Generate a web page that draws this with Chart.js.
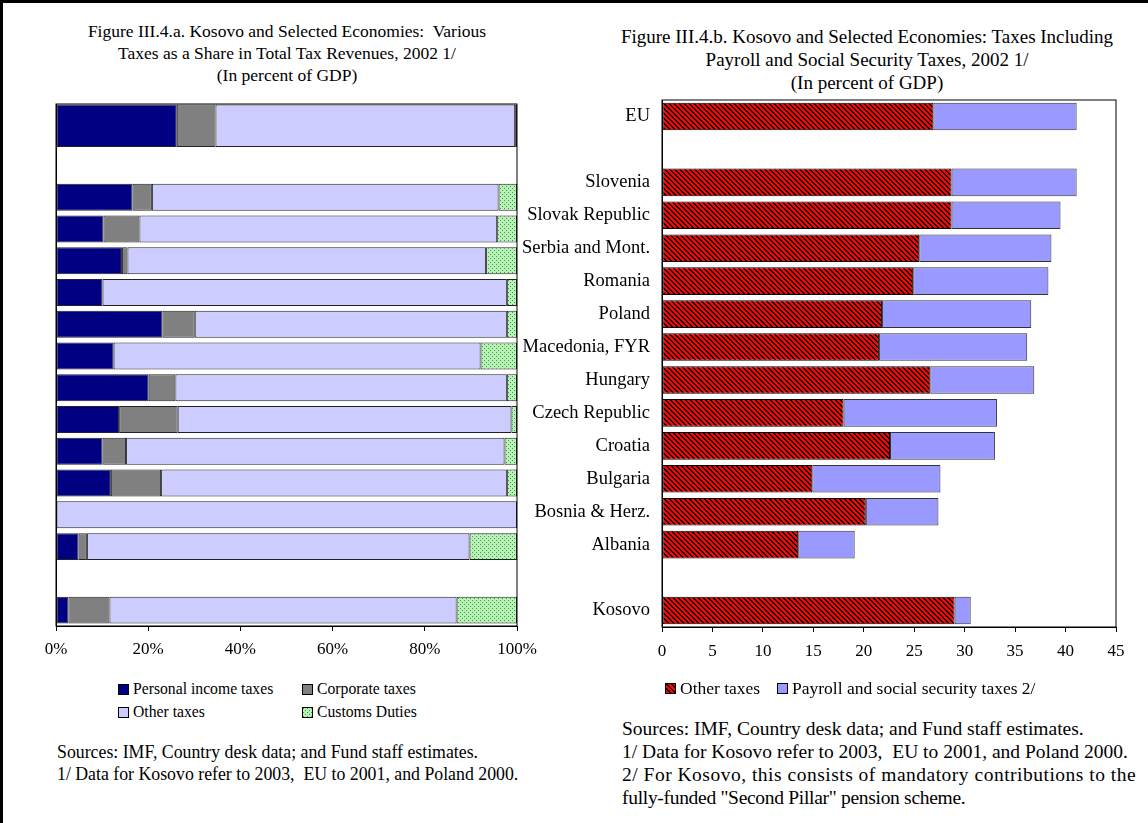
<!DOCTYPE html>
<html>
<head>
<meta charset="utf-8">
<script src="https://cdn.jsdelivr.net/npm/chart.js@4.4.0/dist/chart.umd.min.js"></script>
<style>
  html, body { margin: 0; padding: 0; background: #fff; }
  body { width: 1148px; height: 823px; position: relative; overflow: hidden;
         font-family: "Liberation Serif", "Times New Roman", serif; color: #000; }
  .frame { position: absolute; left: 0; top: 0; width: 1148px; height: 823px;
           border-left: 3px solid #000; border-top: 3px solid #000; box-sizing: border-box; }
  .box { position: absolute; }
  .title { position: absolute; text-align: center; white-space: nowrap; }
  .note { position: absolute; white-space: nowrap; }
  .leg { position: absolute; white-space: nowrap; display: flex; align-items: center; }
  .sw { display: inline-block; width: 9px; height: 9px; border: 1px solid #000; margin-right: 4px; }
</style>
</head>
<body>
<div class="frame"></div>

<div class="title" style="left:0; width:574px; top:20px; font-size:17.5px; line-height:22px;">
  Figure III.4.a. Kosovo and Selected Economies:&nbsp; Various<br>
  Taxes as a Share in Total Tax Revenues, 2002 1/<br>
  (In percent of GDP)
</div>
<div class="title" style="left:580px; width:574px; top:25px; font-size:19px; line-height:23px;">
  Figure III.4.b. Kosovo and Selected Economies: Taxes Including<br>
  Payroll and Social Security Taxes, 2002 1/<br>
  (In percent of GDP)
</div>

<div class="box" style="left:0; top:0; width:574px; height:680px;"><canvas id="chart-share"></canvas></div>
<div class="box" style="left:500px; top:0; width:648px; height:680px;"><canvas id="chart-gdp"></canvas></div>

<!-- left legend -->
<div class="leg" style="left:118px; top:680px; font-size:15.7px;"><span class="sw" style="background:#000080"></span>Personal income taxes</div>
<div class="leg" style="left:302px; top:680px; font-size:15.7px;"><span class="sw" style="background:#808080"></span>Corporate taxes</div>
<div class="leg" style="left:118px; top:703px; font-size:15.7px;"><span class="sw" style="background:#ccccff"></span>Other taxes</div>
<div class="leg" style="left:302px; top:703px; font-size:15.7px;"><span class="sw" id="sw-customs"></span>Customs Duties</div>

<div class="note" style="left:57px; top:741px; font-size:17.8px; line-height:22px;">
  Sources: IMF, Country desk data; and Fund staff estimates.<br>
  1/ Data for Kosovo refer to 2003,&nbsp; EU to 2001, and Poland 2000.
</div>

<!-- right legend -->
<div class="leg" style="left:665px; top:678px; font-size:17.5px;"><span class="sw" id="sw-other"></span>Other taxes</div>
<div class="leg" style="left:777px; top:678px; font-size:17.5px;"><span class="sw" style="background:#9999ff"></span>Payroll and social security taxes 2/</div>

<div class="note" style="left:622px; top:717px; font-size:19.5px; line-height:23px;">
  Sources: IMF, Country desk data; and Fund staff estimates.<br>
  1/ Data for Kosovo refer to 2003,&nbsp; EU to 2001, and Poland 2000.<br>
  <span style="letter-spacing:0.5px">2/ For Kosovo, this consists of mandatory contributions to the</span><br>
  <span style="letter-spacing:-0.3px">fully-funded "Second Pillar" pension scheme.</span>
</div>

<script>
// categories shared by both panels ('' = spacer rows)
const categories = ['EU', '', 'Slovenia', 'Slovak Republic', 'Serbia and Mont.', 'Romania', 'Poland',
  'Macedonia, FYR', 'Hungary', 'Czech Republic', 'Croatia', 'Bulgaria', 'Bosnia & Herz.', 'Albania', '', 'Kosovo'];

// Figure III.4.a — share in total tax revenues (percent)
const personalIncome = [26.2, null, 16.6, 10.3, 14.3, 10.1, 23.1, 12.5, 20.1, 13.7, 10.1, 11.9, 0, 4.9, null, 2.7];
const corporate      = [8.4, null, 4.2, 7.8, 1.2, 0, 7.0, 0, 5.8, 12.7, 5.1, 10.9, 0, 1.8, null, 8.9];
const otherShare     = [65.0, null, 75.2, 77.6, 77.8, 87.7, 67.7, 79.6, 71.9, 72.4, 82.1, 75.0, 100, 83.0, null, 75.3];
const customs        = [0.4, null, 4.0, 4.3, 6.7, 2.2, 2.2, 7.9, 2.2, 1.2, 2.7, 2.2, 0, 10.3, null, 13.1];

// Figure III.4.b — percent of GDP
const otherTaxes   = [26.9, null, 28.7, 28.7, 25.5, 24.9, 21.8, 21.5, 26.6, 18.0, 22.6, 14.9, 20.2, 13.5, null, 29.0];
const payrollTaxes = [14.2, null, 12.4, 10.8, 13.1, 13.4, 14.8, 14.7, 10.3, 15.2, 10.4, 12.7, 7.2, 5.6, null, 1.6];

const shareTicks = [0, 20, 40, 60, 80, 100];
const gdpTicks   = [0, 5, 10, 15, 20, 25, 30, 35, 40, 45];

const SERIF = '"Liberation Serif", "Times New Roman", serif';

// red / black "\" hatch, drawn pixel by pixel so it stays crisp
function makeStripes() {
  const n = 5;
  const c = document.createElement('canvas');
  c.width = n; c.height = n;
  const g = c.getContext('2d');
  for (let y = 0; y < n; y++) {
    for (let x = 0; x < n; x++) {
      g.fillStyle = ((x - y + n) % n) < 2 ? '#000000' : '#ff0000';
      g.fillRect(x, y, 1, 1);
    }
  }
  return c;
}

function makeDots() {
  const c = document.createElement('canvas');
  c.width = 4; c.height = 4;
  const g = c.getContext('2d');
  g.fillStyle = '#b8f2b8';
  g.fillRect(0, 0, 4, 4);
  g.fillStyle = '#3a9a3a';
  g.fillRect(0, 0, 1, 1);
  g.fillRect(2, 2, 1, 1);
  return c;
}

const stripeTile = makeStripes();
const dotTile = makeDots();

document.getElementById('sw-other').style.background = `url(${stripeTile.toDataURL()})`;
document.getElementById('sw-customs').style.background = `url(${dotTile.toDataURL()})`;

const frameBox = {
  id: 'frameBox',
  afterDraw(chart, args, opts) {
    const { ctx, chartArea: a } = chart;
    ctx.save();
    ctx.strokeStyle = opts.color;
    ctx.lineWidth = opts.width;
    ctx.strokeRect(a.left, a.top, a.right - a.left, a.bottom - a.top);
    ctx.restore();
  }
};

function tickValues(list) {
  return (scale) => { scale.ticks = list.map(v => ({ value: v })); };
}

// ---------- left: shares ----------
const shareCtx = document.getElementById('chart-share').getContext('2d');
const customsFill = shareCtx.createPattern(dotTile, 'repeat');

const shareSeries = [
  { label: 'Personal income taxes', values: personalIncome, color: '#000080' },
  { label: 'Corporate taxes',       values: corporate,      color: '#808080' },
  { label: 'Other taxes',           values: otherShare,     color: '#ccccff' },
  { label: 'Customs Duties',        values: customs,        color: customsFill },
];

// EU sits on its own (secondary) axis with a wider bar, as in the original
const euSlots = ['EU', '', '', '', '', '', '', '', '', '', '', ''];
const rowIndex = categories.map((_, i) => i);

const shareSets = [];
shareSeries.forEach(s => {
  shareSets.push({
    label: s.label, data: s.values.map((v, i) => (i === 0 ? null : v)),
    backgroundColor: s.color, yAxisID: 'y', barPercentage: 0.85
  });
});
shareSeries.forEach(s => {
  shareSets.push({
    label: s.label + ' (EU)', data: [s.values[0]],
    backgroundColor: s.color, yAxisID: 'yEU', barPercentage: 0.98
  });
});
shareSets.forEach(d => Object.assign(d, {
  borderColor: '#222', borderWidth: 1, borderSkipped: false,
  categoryPercentage: 1, grouped: false
}));

new Chart(shareCtx, {
  type: 'bar',
  data: { labels: rowIndex, datasets: shareSets },
  plugins: [frameBox],
  options: {
    indexAxis: 'y',
    responsive: true,
    maintainAspectRatio: false,
    animation: false,
    layout: { padding: { left: 56, right: 57, top: 104, bottom: 0 } },
    plugins: {
      legend: { display: false },
      tooltip: { enabled: false },
      frameBox: { color: '#000', width: 1 }
    },
    scales: {
      x: {
        stacked: true, min: 0, max: 100,
        afterBuildTicks: tickValues(shareTicks),
        afterFit: (s) => { s.height = 54; },
        ticks: { color: '#000', padding: 8, font: { family: SERIF, size: 17 }, callback: v => v + '%' },
        grid: { drawOnChartArea: false, tickLength: 5, color: '#000' },
        border: { color: '#000', width: 1 }
      },
      y: {
        type: 'linear', reverse: true, stacked: true,
        bounds: 'data', offset: false, grace: 0,
        // plot box reaches a little above the first row to hold the taller EU bar
        min: -0.94, max: categories.length - 0.5,
        afterBuildTicks: tickValues(rowIndex),
        afterFit: (s) => { s.width = 0; },
        ticks: { display: false },
        grid: { display: false },
        border: { color: '#000', width: 1 }
      },
      yEU: {
        type: 'category', labels: euSlots, offset: true, stacked: true, display: false
      }
    }
  }
});

// ---------- right: percent of GDP ----------
const gdpCtx = document.getElementById('chart-gdp').getContext('2d');
const stripeFill = gdpCtx.createPattern(stripeTile, 'repeat');

new Chart(gdpCtx, {
  type: 'bar',
  data: {
    labels: categories,
    datasets: [
      { label: 'Other taxes', data: otherTaxes, backgroundColor: stripeFill, borderColor: '#000' },
      { label: 'Payroll and social security taxes 2/', data: payrollTaxes, backgroundColor: '#9999ff', borderColor: '#333' }
    ].map(d => Object.assign(d, {
      borderWidth: 1, borderSkipped: false, categoryPercentage: 1, barPercentage: 0.84
    }))
  },
  plugins: [frameBox],
  options: {
    indexAxis: 'y',
    responsive: true,
    maintainAspectRatio: false,
    animation: false,
    layout: { padding: { left: 0, right: 32, top: 100, bottom: 0 } },
    plugins: {
      legend: { display: false },
      tooltip: { enabled: false },
      frameBox: { color: '#000', width: 1 }
    },
    scales: {
      x: {
        stacked: true, min: 0, max: 45,
        afterBuildTicks: tickValues(gdpTicks),
        afterFit: (s) => { s.height = 53; },
        ticks: { color: '#000', padding: 9, font: { family: SERIF, size: 17 } },
        grid: { drawOnChartArea: false, tickLength: 5, color: '#000' },
        border: { color: '#000', width: 1 }
      },
      y: {
        stacked: true,
        afterFit: (s) => { s.width = 162; },
        ticks: { color: '#000', padding: 12, font: { family: SERIF, size: 18.5 }, autoSkip: false },
        grid: { display: false, drawTicks: false },
        border: { color: '#000', width: 1 }
      }
    }
  }
});
</script>
</body>
</html>
